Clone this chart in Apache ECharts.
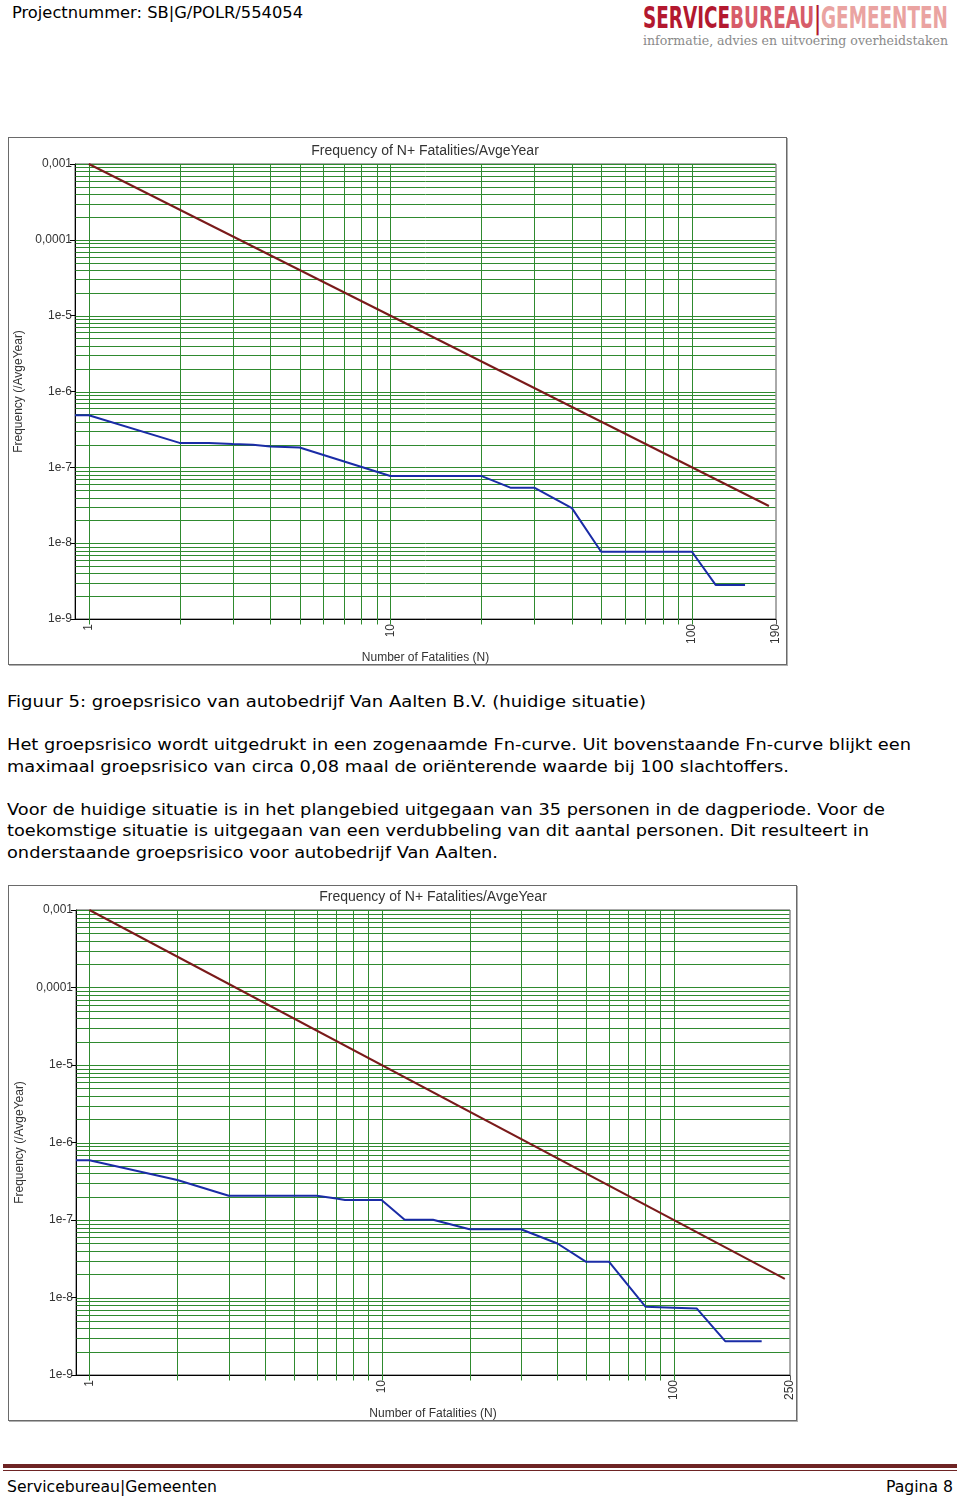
<!DOCTYPE html>
<html>
<head>
<meta charset="utf-8">
<title>Groepsrisico Van Aalten</title>
<script src="https://cdn.jsdelivr.net/npm/echarts@6/dist/echarts.min.js"></script>
<style>
	body {
		margin: 0;
		width: 960px;
		height: 1499px;
		position: relative;
		background: #fff;
		font-family: "DejaVu Sans", Verdana, sans-serif;
		color: #000;
		overflow: hidden;
	}

	.line {
		position: absolute;
		white-space: nowrap;
		transform-origin: left center;
		font-size: 16px;
		line-height: 20px;
		height: 20px;
	}

	.chartbox {
		position: absolute;
		box-sizing: border-box;
		border: 1px solid #6a6a6a;
		box-shadow: 1px 1px 0 #b0b0b0;
		background: #fff;
	}

	.chartbox > div {
		width: 100%;
		height: 100%;
	}

	.logo {
		position: absolute;
		white-space: nowrap;
		transform-origin: left center;
	}

	.rule {
		position: absolute;
		left: 3px;
		width: 954px;
		background: #6e2424;
	}
</style>
</head>
<body>
	<!-- kop -->
	<div class="line" data-w="291" style="left:12px; top:3px; font-size:15px;">Projectnummer: SB|G/POLR/554054</div>
	<div class="logo" data-w="305" style="left:643px; top:1px; height:32px; line-height:32px; font-family:'DejaVu Sans Condensed','DejaVu Sans'; font-weight:bold; font-size:31px;"><span style="color:#b3182f">SERVICE</span><span style="color:#d75c69">BUREAU</span><span style="color:#b3182f">|</span><span style="color:#eaa3a1">GEMEENTEN</span></div>
	<div class="logo" data-w="305" style="left:643px; top:33px; height:16px; line-height:16px; font-family:'DejaVu Serif Condensed','DejaVu Serif'; font-size:13px; color:#8a8a8a;">informatie, advies en uitvoering overheidstaken</div>

	<!-- figuur 5 -->
	<div class="chartbox" style="left:8px; top:137px; width:779px; height:528px;"><div id="chart1"></div></div>

	<div class="line" data-w="639" style="left:7px; top:692px;">Figuur 5: groepsrisico van autobedrijf Van Aalten B.V. (huidige situatie)</div>
	<div class="line" data-w="904" style="left:7px; top:735px;">Het groepsrisico wordt uitgedrukt in een zogenaamde Fn-curve. Uit bovenstaande Fn-curve blijkt een</div>
	<div class="line" data-w="782" style="left:7px; top:757px;">maximaal groepsrisico van circa 0,08 maal de oriënterende waarde bij 100 slachtoffers.</div>
	<div class="line" data-w="878" style="left:7px; top:800px;">Voor de huidige situatie is in het plangebied uitgegaan van 35 personen in de dagperiode. Voor de</div>
	<div class="line" data-w="862" style="left:7px; top:821px;">toekomstige situatie is uitgegaan van een verdubbeling van dit aantal personen. Dit resulteert in</div>
	<div class="line" data-w="491" style="left:7px; top:843px;">onderstaande groepsrisico voor autobedrijf Van Aalten.</div>

	<!-- figuur 6 -->
	<div class="chartbox" style="left:8px; top:885px; width:789px; height:536px;"><div id="chart2"></div></div>

	<!-- voet -->
	<div class="rule" style="top:1464px; height:4px;"></div>
	<div class="rule" style="top:1470px; height:1px;"></div>
	<div class="line" data-w="210" style="left:7px; top:1477px;">Servicebureau|Gemeenten</div>
	<div class="line" data-w="67" style="left:886px; top:1477px;">Pagina 8</div>

<script>
	// Fn-curve huidige situatie (N, frequentie per jaar)
	const fnHuidigN = [0.9, 1, 2, 2.5, 3, 3.5, 4, 5, 10, 20, 25, 30, 40, 50, 100, 120, 150];
	const fnHuidigF = [4.85e-7, 4.85e-7, 2.1e-7, 2.1e-7, 2.03e-7, 1.98e-7, 1.88e-7, 1.83e-7, 7.7e-8, 7.7e-8,
		5.4e-8, 5.4e-8, 2.9e-8, 7.7e-9, 7.7e-9, 2.8e-9, 2.8e-9];
	// orienterende waarde, figuur 5
	const owHuidigN = [1, 180];
	const owHuidigF = [1e-3, 3.09e-8];

	// Fn-curve toekomstige situatie
	const fnToekomstN = [0.9, 1, 2, 3, 6, 7, 7.5, 10, 12, 15, 20, 30, 40, 50, 60, 80, 100, 120, 150, 200];
	const fnToekomstF = [5.9e-7, 5.9e-7, 3.28e-7, 2.06e-7, 2.06e-7, 1.9e-7, 1.81e-7, 1.81e-7, 1.01e-7, 1.01e-7,
		7.6e-8, 7.6e-8, 4.97e-8, 2.9e-8, 2.9e-8, 7.6e-9, 7.4e-9, 7.2e-9, 2.73e-9, 2.73e-9];
	// orienterende waarde, figuur 6
	const owToekomstN = [1, 240];
	const owToekomstF = [1e-3, 1.74e-8];

	// assen
	const xMin = 0.9;
	const yMin = 1e-9;
	const yMax = 1e-3;
	const xLabelsHuidig = [1, 10, 100, 190];
	const xLabelsToekomst = [1, 10, 100, 250];
	const xGridValues = [1, 2, 3, 4, 5, 6, 7, 8, 9, 10, 20, 30, 40, 50, 60, 70, 80, 90, 100];
	const yTickValues = [1e-3, 1e-4, 1e-5, 1e-6, 1e-7, 1e-8, 1e-9];
	const yTickLabels = ['0,001', '0,0001', '1e-5', '1e-6', '1e-7', '1e-8', '1e-9'];
	const yMantissa = [1, 2, 3, 4, 5, 6, 7, 8, 9];

	const chartTitle = 'Frequency of N+ Fatalities/AvgeYear';
	const xName = 'Number of Fatalities (N)';
	const yName = 'Frequency (/AvgeYear)';

	const gridGreen = '#2f8a2f';
	const font = "'Liberation Sans', Arial, sans-serif";

	function pairs(xs, ys) {
		return xs.map((x, i) => [x, ys[i]]);
	}

	// horizontale rasterwaarden 2e-9 .. 1e-3
	function yGridValues() {
		const out = [];
		yTickValues.slice(1).forEach(d => {
			yMantissa.forEach(m => {
				if (m * d > yMin) out.push(m * d);
			});
		});
		out.push(yTickValues[0]);
		return out;
	}

	function crisp(v) {
		return Math.round(v) + 0.5;
	}

	function buildOption(cfg) {
		const xMax = cfg.xLabels[cfg.xLabels.length - 1];
		const xTicks = xGridValues.concat([xMax]);

		return {
			animation: false,
			textStyle: { fontFamily: font },
			title: {
				text: chartTitle,
				left: cfg.titleX,
				top: cfg.titleY,
				textAlign: 'center',
				padding: 0,
				textStyle: { fontSize: 14, fontWeight: 'normal', color: '#333', fontFamily: font }
			},
			grid: {
				left: cfg.grid[0],
				top: cfg.grid[1],
				right: cfg.grid[2],
				bottom: cfg.grid[3],
				containLabel: false,
				outerBoundsMode: 'none',
				show: true,
				borderColor: '#555',
				borderWidth: 1,
				backgroundColor: 'transparent'
			},
			xAxis: {
				type: 'log',
				min: xMin,
				max: xMax,
				name: xName,
				nameLocation: 'middle',
				nameGap: cfg.xNameGap,
				nameTextStyle: { fontSize: 12, color: '#333', fontFamily: font },
				axisLine: { lineStyle: { color: '#000', width: 1 } },
				axisTick: { show: false },
				splitLine: { show: false },
				axisLabel: {
					rotate: 90,
					margin: 5,
					fontSize: 12,
					color: '#333',
					fontFamily: font,
					showMinLabel: true,
					showMaxLabel: true,
					formatter: v => {
						const hit = cfg.xLabels.find(l => Math.abs(Math.log10(l) - Math.log10(v)) < 0.01);
						return hit ? String(hit) : '';
					}
				}
			},
			yAxis: {
				type: 'log',
				min: yMin,
				max: yMax,
				name: yName,
				nameLocation: 'middle',
				nameGap: cfg.yNameGap,
				nameTextStyle: { fontSize: 12, color: '#333', fontFamily: font },
				axisLine: { show: true, lineStyle: { color: '#000', width: 1 } },
				axisTick: { show: true, length: 5, lineStyle: { color: '#000' } },
				splitLine: { show: false },
				axisLabel: {
					margin: 3,
					fontSize: 12,
					color: '#333',
					fontFamily: font,
					formatter: v => {
						const e = Math.round(Math.log10(v));
						const i = yTickValues.findIndex(t => Math.round(Math.log10(t)) === e);
						return i >= 0 ? yTickLabels[i] : '';
					}
				}
			},
			series: [
				{
					// verticaal raster + streepjes onder de x-as
					type: 'custom',
					data: xTicks.map(v => [v, yMin]),
					silent: true,
					clip: false,
					z: 1,
					renderItem: (params, api) => {
						const v = api.value(0);
						const p0 = api.coord([v, yMin]);
						const p1 = api.coord([v, yMax]);
						const x = crisp(p0[0]);
						const edge = v === xMax;
						return {
							type: 'line',
							shape: { x1: x, y1: crisp(p0[1]) + 5, x2: x, y2: edge ? crisp(p0[1]) : crisp(p1[1]) },
							style: { stroke: edge ? '#555' : gridGreen, lineWidth: 1 }
						};
					}
				},
				{
					// horizontaal raster
					type: 'custom',
					data: yGridValues().map(v => [xMin, v]),
					silent: true,
					clip: false,
					z: 1,
					renderItem: (params, api) => {
						const v = api.value(1);
						const p0 = api.coord([xMin, v]);
						const p1 = api.coord([xMax, v]);
						const y = crisp(p0[1]);
						return {
							type: 'line',
							shape: { x1: crisp(p0[0]), y1: y, x2: crisp(p1[0]) - 1, y2: y },
							style: { stroke: gridGreen, lineWidth: 1 }
						};
					}
				},
				{
					name: 'oriënterende waarde',
					type: 'line',
					data: pairs(cfg.owN, cfg.owF),
					symbol: 'none',
					lineStyle: { color: '#7a1a1a', width: 2 },
					z: 3
				},
				{
					name: 'groepsrisico',
					type: 'line',
					data: pairs(cfg.fnN, cfg.fnF),
					symbol: 'none',
					lineStyle: { color: '#1a2ca6', width: 2 },
					z: 4
				}
			]
		};
	}

	const chart1 = echarts.init(document.getElementById('chart1'));
	chart1.setOption(buildOption({
		fnN: fnHuidigN, fnF: fnHuidigF, owN: owHuidigN, owF: owHuidigF,
		xLabels: xLabelsHuidig,
		grid: [66, 26, 10, 45],
		titleX: 416, titleY: 6,
		xNameGap: 30, yNameGap: 47
	}));

	const chart2 = echarts.init(document.getElementById('chart2'));
	chart2.setOption(buildOption({
		fnN: fnToekomstN, fnF: fnToekomstF, owN: owToekomstN, owF: owToekomstF,
		xLabels: xLabelsToekomst,
		grid: [67, 24, 6, 45],
		titleX: 424, titleY: 4,
		xNameGap: 31, yNameGap: 48
	}));

	// tekstregels op de breedte van het origineel zetten
	document.querySelectorAll('[data-w]').forEach(el => {
		const w = el.getBoundingClientRect().width;
		const target = parseFloat(el.dataset.w);
		if (w > 0) el.style.transform = 'scaleX(' + (target / w).toFixed(4) + ')';
	});
</script>
</body>
</html>
